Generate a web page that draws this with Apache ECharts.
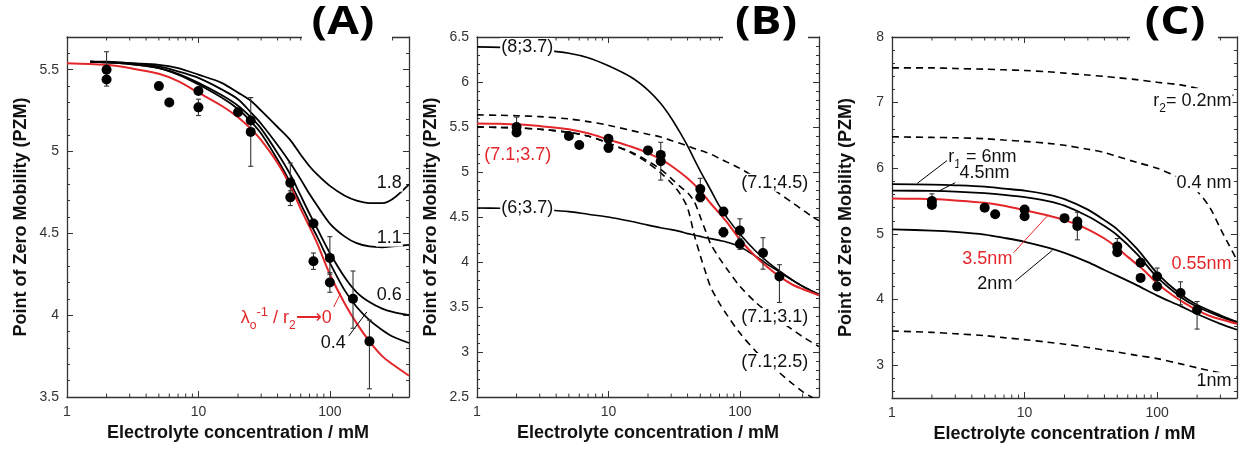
<!DOCTYPE html>
<html><head><meta charset="utf-8">
<script src="https://cdn.jsdelivr.net/npm/echarts@6/dist/echarts.min.js"></script>
<style>html,body{margin:0;padding:0;background:#fff}#c{width:1241px;height:449px}</style>
</head><body><div id="c"></div>
<script>
// ---------- measured data (same in all panels) ----------
const conc     = [2,   2,   5,   6,   10,  10,  20,  25,  25,  50,  50,  75,  75,  100, 100, 150, 200];
const pzm      = [5.50,5.44,5.40,5.30,5.37,5.27,5.24,5.19,5.12,4.81,4.72,4.56,4.33,4.35,4.20,4.10,3.84];
const errLow   = [5.40,null,null,null,null,5.22,null,null,4.91,4.70,4.67,null,4.28,4.25,4.14,3.92,3.55];
const errHigh  = [5.61,null,null,null,null,5.32,null,null,5.33,4.93,4.76,null,4.38,4.48,4.26,4.27,3.97];

// ---------- best fit (red) ----------
const xFit   = [1,   1.5,  2,   3,   5,    7,   10,  15,  20,  25,  30,  40,  50,  60,  70,  80,  100, 130, 160, 200, 250, 300, 400];
const fitRed = [5.54,5.535,5.53,5.51,5.475,5.43,5.36,5.28,5.21,5.14,5.07,4.93,4.79,4.65,4.54,4.44,4.25,4.07,3.95,3.84,3.75,3.70,3.63];

// ---------- panel A curves ----------
const xA   = [1.5, 2,    3,    5,   7,    10,  15,   20,  25,   30,  40,  50,  60,  70,  80,  100, 130, 160, 200,  250,  300, 400];
const a18  = [5.55,5.55, 5.54, 5.53,5.51, 5.47,5.42, 5.36,5.31, 5.25,5.15,5.07,4.98,4.91,4.86,4.79,4.73,4.70,4.685,4.685,4.71,4.80];
const a11  = [5.55,5.545,5.54, 5.52,5.49, 5.45,5.38, 5.32,5.24, 5.17,5.04,4.93,4.83,4.74,4.67,4.56,4.48,4.44,4.42, 4.415,4.42,4.43];
const a06  = [5.55,5.545,5.535,5.51,5.475,5.42,5.345,5.28,5.21, 5.14,4.99,4.86,4.73,4.62,4.53,4.38,4.23,4.14,4.08, 4.04, 4.02,4.00];
const a04  = [5.55,5.545,5.535,5.51,5.47, 5.41,5.33, 5.26,5.185,5.11,4.95,4.81,4.68,4.57,4.48,4.32,4.15,4.05,3.97, 3.91, 3.87,3.83];

// ---------- panel B curves ----------
const xB   = [1,    1.5,  2,    3,    5,    7,    10,  15,  20,  25,  30,  35,  40,  45,  50,  55,  60,  70,  80,  100, 130, 160, 200, 250, 300, 350, 400];
const b8   = [6.39, 6.385,6.38, 6.36, 6.32, 6.27, 6.18,6.05,5.91,5.76,5.60,5.44,5.29,5.14,5.01,4.90,4.80,4.62,4.49,4.31,4.13,4.01,3.90,3.80,3.73,3.68,3.64];
const b6   = [4.60, 4.598,4.595,4.58, 4.56, 4.53, 4.50,4.45,4.41,4.38,4.36,4.34,4.315,4.30,4.285,4.27,4.26,4.24,4.22,4.17,4.07,3.98,3.89,3.80,3.73,3.68,3.64];
const b45  = [5.635,5.63, 5.625,5.615,5.59, 5.56, 5.52,5.46,5.42,5.39,5.35,5.32,5.29,5.26,5.24,5.22,5.20,5.15,5.11,5.04,4.94,4.85,4.76,4.66,4.58,4.51,4.46];
const b31  = [5.50, 5.495,5.49, 5.475,5.44, 5.40, 5.32,5.22,5.12,5.03,4.93,4.84,4.77,4.67,4.50,4.34,4.20,4.04,3.92,3.73,3.56,3.45,3.35,3.25,3.17,3.11,3.06];
const b25  = [5.50, 5.495,5.49, 5.475,5.44, 5.40, 5.32,5.21,5.10,4.99,4.88,4.76,4.60,4.30,4.07,3.88,3.72,3.54,3.41,3.21,3.02,2.89,2.77,2.65,2.56,2.50,2.45];

// ---------- panel C curves ----------
const xC   = [1,   2,    3,    5,   7,    10,  15,  20,  30,  40,  50,  70,  100, 150, 200, 300, 400];
const c6   = [5.76,5.75, 5.74, 5.72,5.69, 5.66,5.60,5.53,5.37,5.21,5.07,4.78,4.40,4.08,3.92,3.76,3.66];
const c45  = [5.66,5.655,5.645,5.62,5.595,5.56,5.50,5.43,5.27,5.12,4.98,4.70,4.34,4.04,3.89,3.74,3.65];
const c2   = [5.07,5.05, 5.03, 4.99,4.94, 4.88,4.79,4.71,4.57,4.45,4.36,4.22,4.06,3.90,3.78,3.63,3.54];
const c02  = [7.53,7.53, 7.52, 7.51,7.50, 7.49,7.47,7.45,7.42,7.40,7.38,7.35,7.31,7.27,7.22,7.15,7.10];
const c1   = [3.52,3.50, 3.48, 3.45,3.42, 3.39,3.35,3.32,3.27,3.23,3.20,3.15,3.10,3.02,2.96,2.88,2.82];
const xC04 = [1,   2,    3,    5,    7,   10,  15,  20,  30,  40,  50,  70,  100, 150, 200, 250, 300, 350, 400];
const c04  = [6.48,6.47, 6.465,6.45, 6.43,6.41,6.38,6.35,6.29,6.24,6.18,6.09,6.00,5.84,5.65,5.40,5.08,4.82,4.60];

// ---------- axis ticks / labels ----------
const minorX = [2,3,4,5,6,7,8,9,20,30,40,50,60,70,80,90,200,300];
const xTitle = 'Electrolyte concentration / mM';
const yTitle = 'Point of Zero Mobility (PZM)';
const letters = ['(A)', '(B)', '(C)'];

// ---------- annotations (text, data position) ----------
const annA = [
  {x:359, y:4.81, t:'1.8', side:'right'},
  {x:359, y:4.474, t:'1.1', side:'right'},
  {x:359, y:4.124, t:'0.6', side:'right'},
  {x:134.7, y:3.83, t:'0.4', side:'right'},
  {x:105, y:3.98, t:'λ{s|o}{p|-1} / r{s|2}⟶0', side:'right', red:true}
];
const leadA = [
  {p:[[139,3.872],[191,4.02]]},
  {p:[[107,4.05],[121,4.136]], red:true}
];
const annB = [
  {x:1.5, y:6.39, t:'(8;3.7)', side:'left'},
  {x:1.5, y:4.597, t:'(6;3.7)', side:'left'},
  {x:1.117, y:5.19, t:'(7.1;3.7)', side:'left', red:true},
  {x:100.5, y:4.88, t:'(7.1;4.5)', side:'left'},
  {x:100.5, y:3.389, t:'(7.1;3.1)', side:'left'},
  {x:100.5, y:2.889, t:'(7.1;2.5)', side:'left'}
];
const annC = [
  {x:2.61, y:6.165, t:'r{s|1} = 6nm', side:'left'},
  {x:3.17, y:5.92, t:'4.5nm', side:'left'},
  {x:8.23, y:4.62, t:'3.5nm', side:'right', red:true},
  {x:8.23, y:4.24, t:'2nm', side:'right'},
  {x:370, y:4.54, t:'0.55nm', side:'right', red:true},
  {x:370, y:7.02, t:'r{s|2}= 0.2nm', side:'right'},
  {x:370, y:5.77, t:'0.4 nm', side:'right'},
  {x:370, y:2.755, t:'1nm', side:'right'}
];
const leadC = [
  {p:[[2.61,6.12],[1.55,5.77]]},
  {p:[[3.0,5.78],[2.24,5.65]]},
  {p:[[8.23,4.71],[15.1,5.29]], red:true},
  {p:[[8.5,4.28],[16.2,4.75]]}
];

// ---------- layout / style ----------
const FONT = '"Liberation Sans", Arial, sans-serif';
const RED = '#e3262a';
const AX = '#333';
const TXT = '#111';
const panels = [
  {grid:{left:67, top:37, width:342, height:360}, yMin:3.5, yMax:5.7, yInt:0.5, showMin:true, showMax:false, letterX:343, brk:[302,392],
   curves:[[xFit,fitRed,RED,2,false],[xA,a04,'#000',1.8,false],[xA,a06,'#000',1.8,false],[xA,a11,'#000',1.8,false],[xA,a18,'#000',1.8,false]],
   ann:annA, lead:leadA},
  {grid:{left:477, top:37, width:342, height:360}, yMin:2.5, yMax:6.5, yInt:0.5, showMin:true, showMax:true, letterX:766, brk:[723,808],
   curves:[[xB,b45,'#000',1.6,true],[xB,b31,'#000',1.6,true],[xB,b25,'#000',1.6,true],[xB,b8,'#000',1.6,false],[xB,b6,'#000',1.6,false],[xFit,fitRed,RED,2,false]],
   ann:annB, lead:[]},
  {grid:{left:892, top:37, width:345, height:361}, yMin:2.5, yMax:8, yInt:null, showMin:false, showMax:true, letterX:1175, brk:[1130,1218],
   curves:[[xC,c02,'#000',1.6,true],[xC04,c04,'#000',1.6,true],[xC,c1,'#000',1.6,true],[xC,c6,'#000',1.8,false],[xC,c45,'#000',1.8,false],[xC,c2,'#000',1.8,false],[xFit,fitRed,RED,2,false]],
   ann:annC, lead:leadC}
];

const zip = (xs, ys) => xs.map((x, i) => [x, ys[i]]);
const grid = [], xAxis = [], yAxis = [], series = [], graphic = [];

panels.forEach((P, pi) => {
  grid.push(P.grid);
  const xBase = {type:'log', logBase:10, min:1, max:400, gridIndex:pi,
    axisLine:{show:true, onZero:false, lineStyle:{color:AX, width:1.3}},
    axisTick:{show:true, inside:true, length:6, lineStyle:{color:AX, width:1}},
    splitLine:{show:false}, minorSplitLine:{show:false}};
  xAxis.push(Object.assign({}, xBase, {position:'bottom',
    axisLabel:{show:true, color:'#333', fontSize:14, fontFamily:FONT, margin:8, showMaxLabel:false},
    name:xTitle, nameLocation:'middle', nameGap:15,
    nameTextStyle:{fontSize:18, fontWeight:'bold', color:TXT, fontFamily:FONT}}));
  xAxis.push(Object.assign({}, xBase, {position:'top', axisLabel:{show:false}}));
  const yBase = {type:'value', min:P.yMin, max:P.yMax, gridIndex:pi,
    axisLine:{show:true, onZero:false, lineStyle:{color:AX, width:1.3}},
    axisTick:{show:true, inside:true, length:6, lineStyle:{color:AX, width:1}},
    minorTick:{show:true, splitNumber:5, length:3, lineStyle:{color:AX, width:1}},
    splitLine:{show:false}, minorSplitLine:{show:false}};
  if (P.yInt) yBase.interval = P.yInt; else yBase.splitNumber = 5;
  yAxis.push(Object.assign({}, yBase, {position:'left',
    axisLabel:{show:true, color:'#333', fontSize:14, fontFamily:FONT, margin:8, showMinLabel:P.showMin, showMaxLabel:P.showMax},
    name:yTitle, nameLocation:'middle', nameGap:37, nameRotate:90,
    nameTextStyle:{fontSize:18, fontWeight:'bold', color:TXT, fontFamily:FONT}}));
  yAxis.push(Object.assign({}, yBase, {position:'right', axisLabel:{show:false}}));

  const xi = 2 * pi, yi = 2 * pi;
  // minor log ticks on bottom and top
  series.push({type:'custom', xAxisIndex:xi, yAxisIndex:yi, silent:true, z:1,
    data: minorX.map(x => [x, P.yMin]), encode:{x:0, y:1},
    renderItem: (params, api) => {
      const x = api.value(0);
      const b = api.coord([x, P.yMin]), t = api.coord([x, P.yMax]);
      const st = {stroke:AX, lineWidth:1};
      return {type:'group', children:[
        {type:'line', shape:{x1:b[0], y1:b[1], x2:b[0], y2:b[1]-3.5}, style:st},
        {type:'line', shape:{x1:t[0], y1:t[1], x2:t[0], y2:t[1]+3.5}, style:st}
      ]};
    }});
  // curves
  P.curves.forEach(c => {
    series.push({type:'line', xAxisIndex:xi, yAxisIndex:yi, data:zip(c[0], c[1]),
      showSymbol:false, symbol:'none', smooth:0.3, silent:true, z:c[2]===RED?3:2,
      lineStyle:{color:c[2], width:c[3], type:c[4]?[7,5]:'solid', opacity:1}});
  });
  // leader lines
  P.lead.forEach(l => {
    series.push({type:'line', xAxisIndex:xi, yAxisIndex:yi, data:l.p, showSymbol:false, symbol:'none',
      silent:true, z:3, lineStyle:{color:l.red?RED:'#000', width:1}});
  });
  // error bars
  series.push({type:'custom', xAxisIndex:xi, yAxisIndex:yi, silent:true, z:4,
    data: conc.map((c, i) => errLow[i] == null ? null : [c, errLow[i], errHigh[i]]).filter(Boolean),
    encode:{x:0, y:[1,2]},
    renderItem: (params, api) => {
      const p1 = api.coord([api.value(0), api.value(1)]);
      const p2 = api.coord([api.value(0), api.value(2)]);
      const st = {stroke:'#333', lineWidth:1.1}, w = 2.5;
      return {type:'group', children:[
        {type:'line', shape:{x1:p1[0], y1:p1[1], x2:p2[0], y2:p2[1]}, style:st},
        {type:'line', shape:{x1:p1[0]-w, y1:p1[1], x2:p1[0]+w, y2:p1[1]}, style:st},
        {type:'line', shape:{x1:p2[0]-w, y1:p2[1], x2:p2[0]+w, y2:p2[1]}, style:st}
      ]};
    }});
  // points
  series.push({type:'scatter', xAxisIndex:xi, yAxisIndex:yi, data:zip(conc, pzm), symbol:'circle',
    symbolSize:10, itemStyle:{color:'#000', opacity:1}, silent:true, z:5});
  // annotations
  series.push({type:'scatter', xAxisIndex:xi, yAxisIndex:yi, symbolSize:0, silent:true, z:6,
    itemStyle:{color:'rgba(0,0,0,0)', opacity:1},
    data: P.ann.map(a => {
      const col = a.red ? RED : TXT;
      return {value:[a.x, a.y], label:{show:true, formatter:a.t, opacity:1,
        position: a.side === 'left' ? 'right' : 'left', distance:0,
        color:col, fontSize:18, fontFamily:FONT, backgroundColor:'#fff', padding:[0,1],
        rich:{
          s:{fontSize:12, color:col, fontFamily:FONT, verticalAlign:'bottom', lineHeight:26},
          p:{fontSize:13, color:col, fontFamily:FONT, verticalAlign:'top', lineHeight:26}
        }}};
    })});
  // panel letter with white box breaking the frame
  graphic.push({type:'rect', shape:{x:P.brk[0], y:0, width:P.brk[1]-P.brk[0], height:44}, style:{fill:'#fff'}, z:100});
  graphic.push({type:'text', x:P.letterX, y:23, scaleX:1.15, z:101,
    style:{text:letters[pi], font:'bold 40px "Open Sans", "Liberation Sans", sans-serif', fill:'#000',
      align:'center', verticalAlign:'middle', textAlign:'center', textVerticalAlign:'middle'}});
});

const chart = echarts.init(document.getElementById('c'));
chart.setOption({animation:false, backgroundColor:'#fff', grid, xAxis, yAxis, series, graphic});
</script></body></html>
